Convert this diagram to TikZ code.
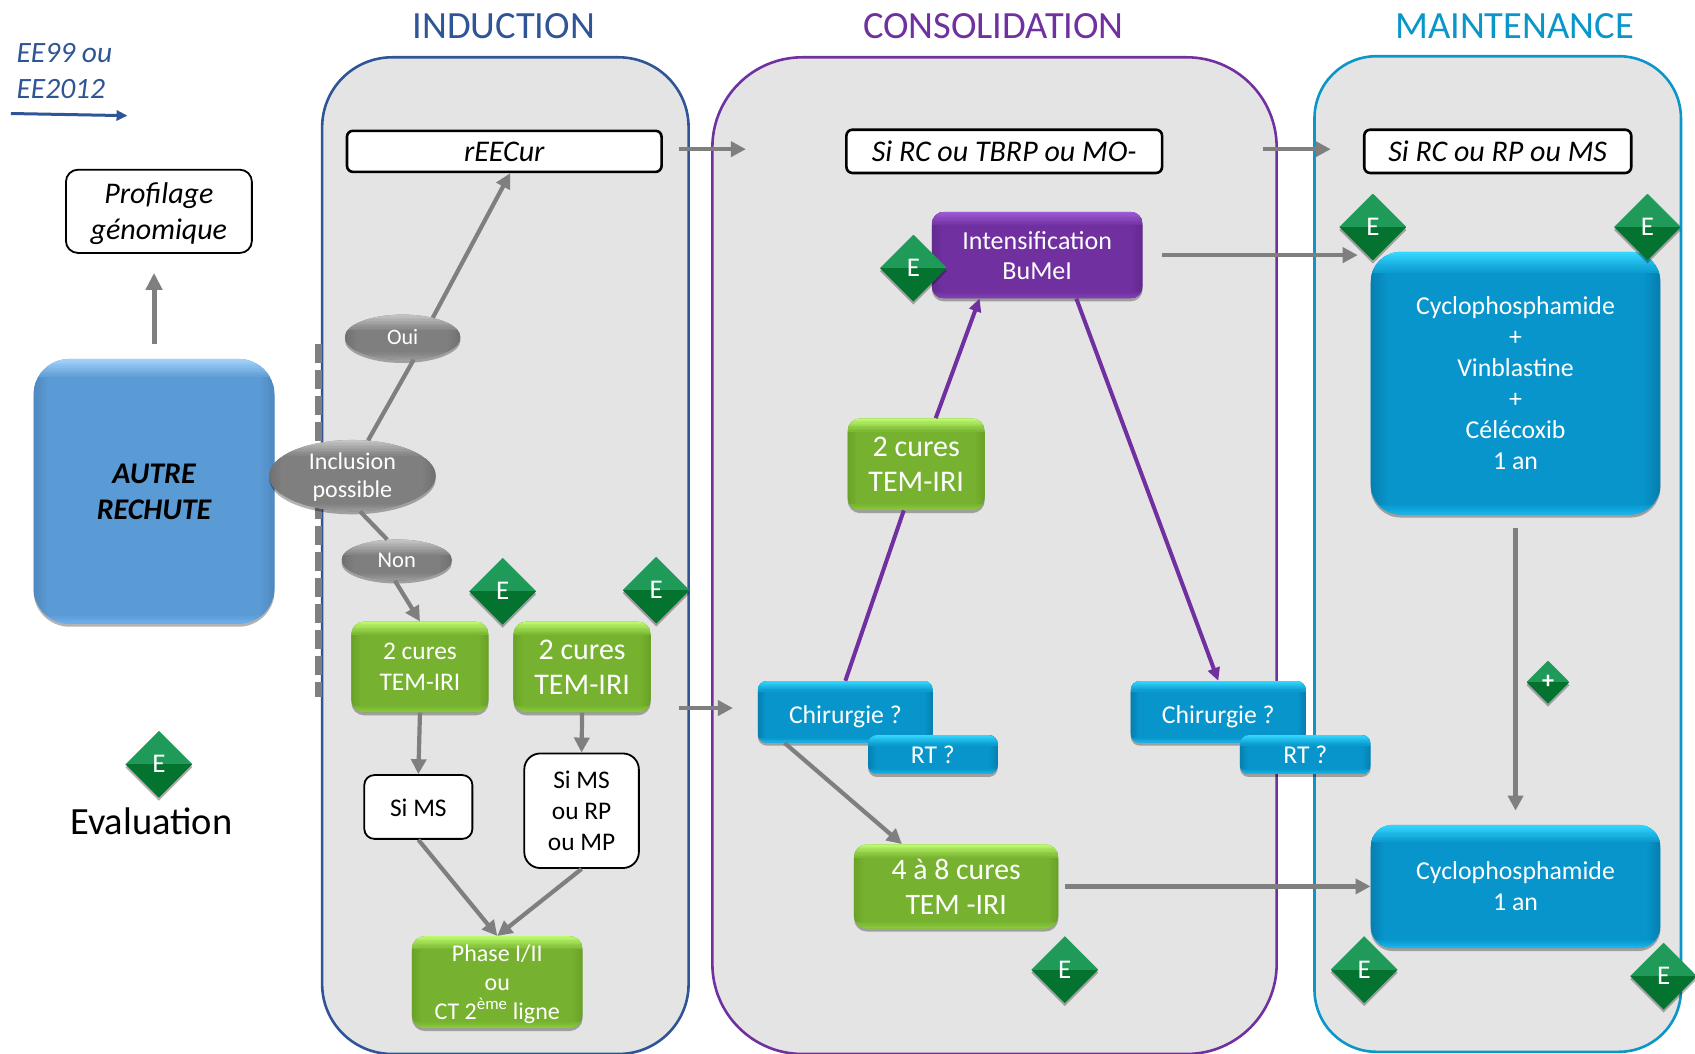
\documentclass[tikz,border=0pt]{standalone}
\usepackage{fontspec}
\setmainfont{Carlito}
\usetikzlibrary{arrows.meta,shapes.geometric,shadows,calc}
\newcommand{\myfs}[2]{\fontsize{#1pt}{#2pt}\selectfont}
\definecolor{indc}{HTML}{2F5597}
\definecolor{conc}{HTML}{7030A0}
\definecolor{mainc}{HTML}{0A96C9}
\definecolor{panelf}{HTML}{E4E4E4}
\definecolor{conn}{HTML}{7F7F7F}
\definecolor{gA}{HTML}{76B22F}
\definecolor{gB}{HTML}{BDFB6E}
\definecolor{gC}{HTML}{8ACB3C}
\definecolor{gD}{HTML}{6AA228}
\definecolor{bA}{HTML}{0795CB}
\definecolor{bB}{HTML}{33D8FF}
\definecolor{bC}{HTML}{16B6EC}
\definecolor{bD}{HTML}{0680B0}
\definecolor{pA}{HTML}{7030A0}
\definecolor{pB}{HTML}{9E5BD6}
\definecolor{pC}{HTML}{8240B5}
\definecolor{pD}{HTML}{632A8E}
\definecolor{yA}{HTML}{7F7F7F}
\definecolor{yB}{HTML}{C4C4C4}
\definecolor{yC}{HTML}{9A9A9A}
\definecolor{yD}{HTML}{707070}
\definecolor{aA}{HTML}{5B9BD5}
\definecolor{aB}{HTML}{A2D2FA}
\definecolor{aC}{HTML}{6FB0EA}
\definecolor{aD}{HTML}{5089C0}
\definecolor{dA}{HTML}{1F9A58}
\definecolor{dB}{HTML}{04732F}
% painted gradient strips inside a node: base, top, bottom, side, band height
\newcommand{\bevelpaint}[5]{%
  \foreach \i in {0,...,7}{%
    \pgfmathtruncatemacro{\p}{100-\i*12.5}%
    \pgfmathsetmacro{\wa}{\i*#5/8}%
    \pgfmathsetmacro{\wb}{(\i+1)*#5/8}%
    \fill[sharp corners,color=#4!\p!#1] ([xshift=\wa pt]path picture bounding box.north west) rectangle ([xshift=\wb pt+.3pt]path picture bounding box.south west);
    \fill[sharp corners,color=#4!\p!#1] ([xshift=-\wa pt]path picture bounding box.north east) rectangle ([xshift=-\wb pt-.3pt]path picture bounding box.south east);
  }%
  \foreach \i in {0,...,9}{%
    \pgfmathtruncatemacro{\p}{100-\i*10}%
    \pgfmathsetmacro{\ta}{\i*#5*1.3/10}%
    \pgfmathsetmacro{\tb}{(\i+1)*#5*1.3/10}%
    \pgfmathsetmacro{\ua}{\i*#5*.6/10}%
    \pgfmathsetmacro{\ub}{(\i+1)*#5*.6/10}%
    \fill[sharp corners,color=#2!\p!#1] ([yshift=-\ta pt]path picture bounding box.north west) rectangle ([yshift=-\tb pt-.3pt]path picture bounding box.north east);
    \fill[sharp corners,color=#3!\p!#1] ([yshift=\ua pt]path picture bounding box.south west) rectangle ([yshift=\ub pt+.3pt]path picture bounding box.south east);
  }%
}
\tikzset{
  wh/.style 2 args={minimum width=#1*1.081pt,minimum height=#2*1.081pt,inner sep=0pt},
  softshadow/.style={drop shadow={shadow xshift=0pt,shadow yshift=-3pt,opacity=.3,fill=black}},
  bevel/.style n args={5}{fill=#1,softshadow,text depth=0pt,
    path picture={\bevelpaint{#1}{#2}{#3}{#4}{#5}}},
  greenbox/.style={rectangle,rounded corners=13pt,text=white,align=center,bevel={gA}{gB}{gC}{gD}{10}},
  bluebox/.style={rectangle,rounded corners=9pt,text=white,align=center,bevel={bA}{bB}{bC}{bD}{8}},
  bigblue/.style={rectangle,rounded corners=30pt,text=white,align=center,bevel={bA}{bB}{bC}{bD}{16}},
  purplebox/.style={rectangle,rounded corners=12pt,text=white,align=center,bevel={pA}{pB}{pC}{pD}{10}},
  greyell/.style={ellipse,text=white,align=center,inner xsep=-12pt,inner ysep=-16pt,bevel={yA}{yB}{yC}{yD}{12}},
  whitebox/.style={rectangle,rounded corners=10pt,draw=black,fill=white,line width=1.8pt,align=center,text=black,text depth=0pt},
  panel/.style={rectangle,line width=2.6pt,fill=panelf,inner sep=0pt},
  title/.style={font=\myfs{38.5}{42}},
  evald/.style={diamond,inner sep=0pt,minimum width=67pt,minimum height=67pt,text=white,font=\myfs{27}{29},softshadow,
    path picture={
      \fill[fill=dA] (path picture bounding box.north west) rectangle (path picture bounding box.east);
      \fill[fill=dB] (path picture bounding box.west) rectangle (path picture bounding box.south east);
    }},
  conline/.style={draw=conn,line width=4.2pt,-{Triangle[length=15pt,width=15pt]}},
  conplain/.style={draw=conn,line width=4.2pt},
  purline/.style={draw=conc,line width=4pt,-{Triangle[length=13pt,width=12pt]}},
  purplain/.style={draw=conc,line width=4pt},
}
\begin{document}
\begin{tikzpicture}[x=1.081pt,y=-1.081pt]
\clip (0,0) rectangle (1568,975);
% panels
\node[panel,draw=indc,rounded corners=70pt,wh={339}{922}] (pind) at (467.5,514) {};
\node[panel,draw=conc,rounded corners=90pt,wh={522}{922}] (pcon) at (920,514) {};
\node[panel,draw=mainc,rounded corners=62pt,wh={339}{921}] (pmai) at (1385.5,512.5) {};
\node[title,text=indc] (tind) at (466,24) {INDUCTION};
\node[title,text=conc] (tcon) at (919,24) {CONSOLIDATION};
\node[title,text=mainc] (tmai) at (1401,24) {MAINTENANCE};
% dashed bar
\coordinate (dasha) at (295,318);
\coordinate (dashb) at (295,645);
\draw[conn,line width=7pt,dash pattern=on 19pt off 7pt] (dasha) -- (dashb);
% legend
\node[anchor=west,align=left,text=indc,font=\myfs{29.5}{36}\itshape] (ee) at (12,65.5) {EE99 ou\\EE2012};
\coordinate (eea) at (10,105);
\coordinate (eeb) at (118,107);
\draw[draw=indc,line width=3pt,-{Triangle[length=11pt,width=10pt]}] (eea) -- (eeb);
\node[whitebox,rounded corners=12pt,wh={172}{77},font=\myfs{30}{36}\itshape] (prof) at (147,195.5) {Profilage\\génomique};
\node[rectangle,rounded corners=36pt,wh={223}{245},text=black,align=center,font=\myfs{30}{36}\bfseries\itshape,bevel={aA}{aB}{aC}{aD}{14}] (autre) at (142.5,454.5) {AUTRE\\RECHUTE};
\node[font=\myfs{38.5}{42},text=black] (evalt) at (140,760) {Evaluation};
% induction
\node[whitebox,line width=2.6pt,rounded corners=6pt,wh={291}{38},font=\myfs{30}{32}\itshape] (reecur) at (466.5,140) {rEECur};
\node[greyell,wh={107}{42},font=\myfs{22}{26}] (oui) at (372.5,312) {Oui};
\node[greyell,wh={154}{66},font=\myfs{24}{28}] (incl) at (326,440) {Inclusion\\possible};
\node[greyell,wh={102}{38},font=\myfs{22.5}{26}] (non) at (367,518) {Non};
\node[greenbox,wh={127}{84},font=\myfs{25.4}{31}] (gi) at (388.5,617) {2 cures\\TEM-IRI};
\node[greenbox,wh={127}{84},font=\myfs{30}{35}] (gj) at (538.5,617) {2 cures\\TEM-IRI};
\node[whitebox,wh={100}{59},font=\myfs{25.4}{31},text height=20pt] (sims) at (387,746.5) {Si MS};
\node[whitebox,rounded corners=16pt,wh={106}{106},font=\myfs{25.4}{31}] (simsb) at (538,750) {Si MS\\ou RP\\ou MP};
\node[greenbox,wh={158}{85},font=\myfs{24}{28.6}] (phase) at (460,908.5) {Phase I/II\\ou\\CT 2\textsuperscript{ème} ligne};
% consolidation
\node[whitebox,line width=2.6pt,rounded corners=6pt,wh={292}{40},font=\myfs{30}{32}\itshape] (sitb) at (929,140) {Si RC ou TBRP ou MO-};
\node[purplebox,wh={195}{80},font=\myfs{26}{30}] (inten) at (959.5,236) {Intensification\\BuMeI};
\node[greenbox,wh={127}{85},font=\myfs{30}{35}] (gc) at (847.5,429.5) {2 cures\\TEM-IRI};
\node[bluebox,wh={162}{57},font=\myfs{25.7}{30},text height=23pt] (chi) at (782,658.5) {Chirurgie ?};
\node[bluebox,wh={120}{36},font=\myfs{25.7}{30}] (rta) at (863,698) {RT ?};
\node[bluebox,wh={162}{57},font=\myfs{25.7}{30},text height=23pt] (chib) at (1127,658.5) {Chirurgie ?};
\node[bluebox,wh={121}{36},font=\myfs{25.7}{30}] (rtb) at (1207.5,698) {RT ?};
\node[greenbox,wh={189}{78},font=\myfs{29.7}{35}] (gq) at (884.5,820) {4 à 8 cures\\TEM -IRI};
% maintenance
\node[whitebox,line width=2.6pt,rounded corners=6pt,wh={247}{40},font=\myfs{30}{32}\itshape] (sirp) at (1385.5,140) {Si RC ou RP ou MS};
\node[bigblue,wh={268}{243},font=\myfs{25.8}{31}] (cyc) at (1402,354.5) {Cyclophosphamide\\+\\Vinblastine\\+\\Célécoxib\\1 an};
\node[rectangle,rounded corners=22pt,text=white,align=center,bevel={bA}{bB}{bC}{bD}{13},wh={268}{114},font=\myfs{25.8}{31}] (cyca) at (1402,820) {Cyclophosphamide\\1 an};
% connectors
\draw[conline,line width=5pt,-{Triangle[length=17pt,width=16pt]},shorten <=15pt,shorten >=19pt] (autre.north) -- (autre.north |- prof.south);
\draw[conplain] (incl.66) -- (oui.-64);
\draw[conline] (oui.33) -- (reecur.-75);
\draw[conplain] (incl.-78) -- (non.115);
\draw[conline] (non.-95) -- (gi.north);
\draw[conline] (gi.south) -- (sims.north);
\draw[conline] (gj.south) -- (simsb.north);
\draw[conline] (sims.south) -- (phase.north);
\draw[conline] (simsb.south) -- (phase.north);
\coordinate (ra) at (628,138); \coordinate (rb) at (690,138);
\draw[conline] (ra) -- (rb);
\coordinate (sa) at (1168,138); \coordinate (sb) at (1231,138);
\draw[conline] (sa) -- (sb);
\coordinate (ia) at (1256,236);
\draw[conline,shorten <=19pt] (inten.east) -- (ia);
\coordinate (ga) at (628,655); \coordinate (gb) at (678,655);
\draw[conline] (ga) -- (gb);
\draw[conline] (chi.207.4) -- (gq.142.2);
\draw[conline,shorten <=6pt] (gq.east) -- (cyca.west);
\draw[conline,shorten <=13pt,shorten >=14pt] (cyc.south) -- (cyca.north);
\draw[purplain] (chi.north) -- (gc.255);
\draw[purline] (gc.67) -- (inten.217);
\draw[purline] (inten.-48) -- (chib.north);
% evaluation diamonds
\node[evald] (e0) at (147,707) {E};
\node[evald] (e1) at (465,547) {E};
\node[evald] (e2) at (607,546) {E};
\node[evald] (e3) at (845,248) {E};
\node[evald] (e4) at (985,897) {E};
\node[evald] (e5) at (1270,210) {E};
\node[evald] (e6) at (1524,210) {E};
\node[evald] (e7) at (1262,897) {E};
\node[evald] (e8) at (1539,903) {E};
\node[evald,minimum width=43pt,minimum height=43pt,font=\myfs{24}{26}\bfseries] (ep) at (1432,631) {+};
\end{tikzpicture}
\end{document}
